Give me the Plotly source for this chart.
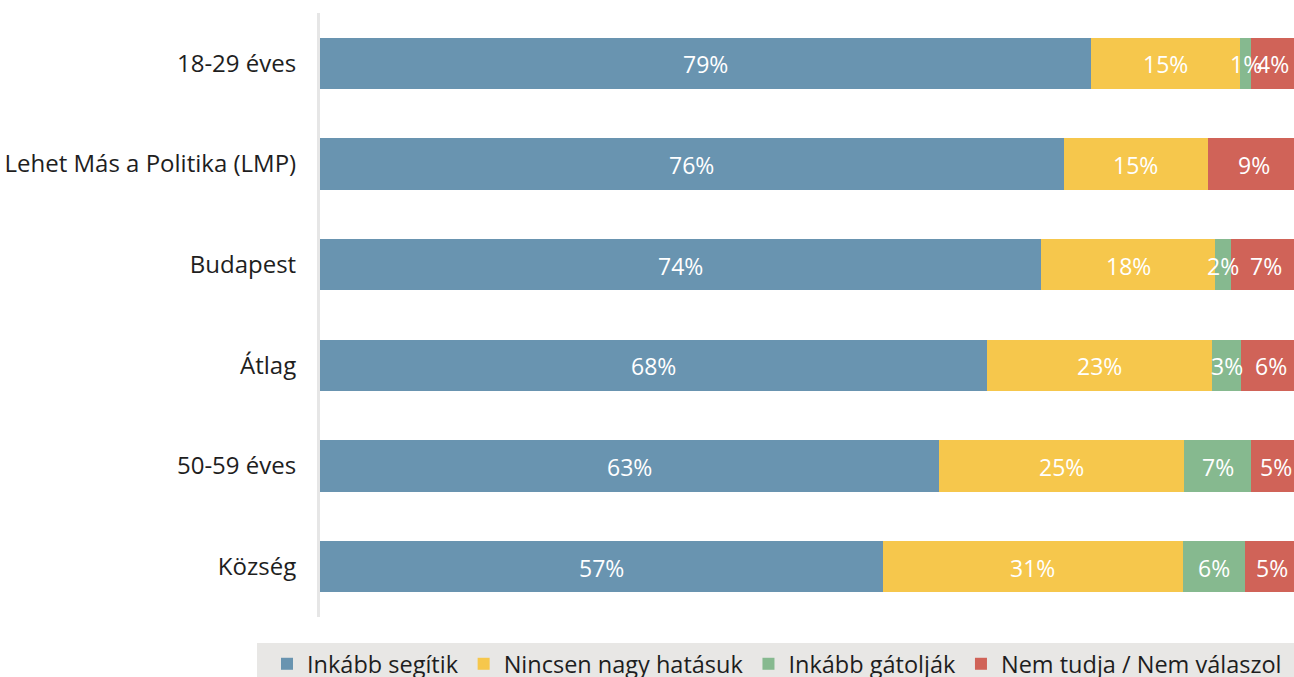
import plotly.graph_objects as go

categories = ["18-29 éves", "Lehet Más a Politika (LMP)", "Budapest", "Átlag", "50-59 éves", "Község"]
series_names = ["Inkább segítik", "Nincsen nagy hatásuk", "Inkább gátolják", "Nem tudja / Nem válaszol"]
segitik = [78.7, 75.9, 73.6, 68.1, 63.2, 57.4]
nincsen = [15.2, 14.7, 17.7, 22.9, 25.0, 30.7]
gatoljak = [1.1, None, 1.7, 3.0, 6.8, 6.3]
nem_tudja = [4.4, 9.4, 7.1, 6.0, 5.0, 5.4]

series_values = [segitik, nincsen, gatoljak, nem_tudja]
colors = ["#6994B0", "#F6C74C", "#86B98F", "#D06358"]

FONT = "Open Sans"
TXT = "#1e1e1e"

# plot-area geometry in pixels (for converting layout positions to paper units)
PL, PR, PT, PB = 320, 1294, 13, 617
def px_x(p):
    return (p - PL) / (PR - PL)
def px_y(p):
    return (PB - p) / (PB - PT)

fig = go.Figure()
for name, vals, col in zip(series_names, series_values, colors):
    fig.add_trace(go.Bar(
        y=categories, x=vals, name=name, orientation="h",
        marker=dict(color=col, line=dict(width=0)),
        hovertemplate="%{y}: %{x:.0f}%<extra>" + name + "</extra>",
    ))

# value labels drawn above all bars, at the centre of each stacked segment
for i, cat in enumerate(categories):
    cum = 0.0
    for vals in series_values:
        v = vals[i]
        if v is None:
            continue
        fig.add_annotation(
            x=cum + v / 2, y=cat, xref="x", yref="y",
            text=f"{v:.0f}%", showarrow=False,
            xanchor="center", yanchor="middle", yshift=-1,
            font=dict(color="white", size=23, family=FONT),
        )
        cum += v

fig.add_shape(
    type="rect", xref="paper", yref="paper", layer="below",
    x0=px_x(257), x1=px_x(1300), y0=px_y(690), y1=px_y(643),
    fillcolor="#E8E7E5", line=dict(width=0),
)

fig.update_layout(
    barmode="stack",
    bargap=0.49,
    width=1294, height=677,
    margin=dict(l=PL, r=1294 - PR, t=PT, b=677 - PB, autoexpand=False),
    paper_bgcolor="white",
    plot_bgcolor="white",
    font=dict(family=FONT, size=23, color=TXT),
    xaxis=dict(range=[0, 100 * 974 / 980], visible=False, fixedrange=True),
    yaxis=dict(
        autorange="reversed",
        showline=True, linecolor="#E6E6E6", linewidth=3,
        ticks="", ticklabelstandoff=16,
        tickfont=dict(size=24, color=TXT, family=FONT),
        showgrid=False, fixedrange=True,
    ),
    legend=dict(
        orientation="h",
        x=px_x(267), xanchor="left",
        y=px_y(642), yanchor="top",
        bgcolor="rgba(0,0,0,0)",
        font=dict(size=23.5, color=TXT, family=FONT),
        itemwidth=30,
        traceorder="normal",
    ),
    showlegend=True,
)

fig.write_html(
    "out.html",
    config={"displayModeBar": False},
    post_script="document.body.style.margin='0';document.body.style.overflow='hidden';",
)
